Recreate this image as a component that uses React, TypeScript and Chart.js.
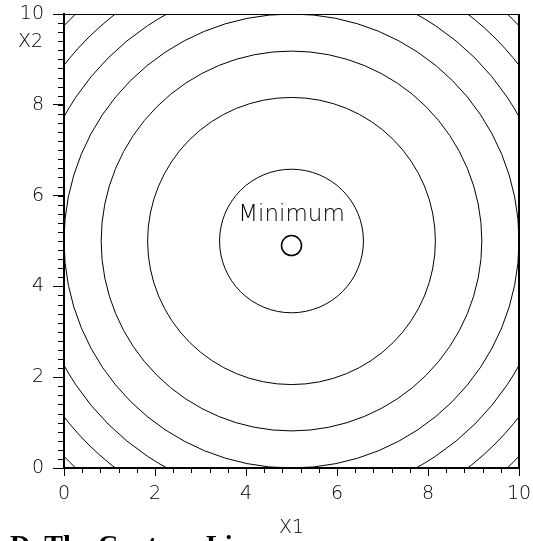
import React, { useEffect, useRef } from 'react';
import { Chart, registerables } from 'chart.js';

Chart.register(...registerables);

// ---- data ----
const X_RANGE = [0, 10];
const Y_RANGE = [0, 10];
const MAJOR_STEP = 2;
const X_MINOR_STEP = 0.4;
const Y_MINOR_STEP = 0.2;
const CENTER = [5, 5];
// contour levels of f(x1,x2) = (x1-5)^2 + (x2-5)^2
const CONTOUR_LEVELS = [2.5, 10, 17.5, 25, 32.5, 40, 47.5];
const MIN_X = [5];
const MIN_Y = [4.9];
const MIN_LABEL = 'Minimum';
const MIN_LABEL_POS = [5, 5.58];
const X_TITLE = 'X1';
const Y_TITLE = 'X2';
const CAPTION = 'D. The Contour Lines';

const THIN_FONT = '"DejaVu Sans", sans-serif';

const zeroPad = (s: any) => {
  s.paddingLeft = 0;
  s.paddingRight = 0;
  s.paddingTop = 0;
  s.paddingBottom = 0;
};

const decorPlugin = {
  id: 'decor',
  beforeDatasetsDraw(chart: any) {
    const { ctx, chartArea, scales } = chart;
    const xs = scales.x;
    const ys = scales.y;
    const cx = xs.getPixelForValue(CENTER[0]);
    const cy = ys.getPixelForValue(CENTER[1]);
    const pxX = xs.getPixelForValue(1) - xs.getPixelForValue(0);
    const pxY = ys.getPixelForValue(0) - ys.getPixelForValue(1);
    ctx.save();
    ctx.beginPath();
    ctx.rect(chartArea.left, chartArea.top, chartArea.right - chartArea.left, chartArea.bottom - chartArea.top);
    ctx.clip();
    ctx.strokeStyle = '#000';
    ctx.lineWidth = 1;
    CONTOUR_LEVELS.forEach((lv) => {
      const r = Math.sqrt(lv);
      ctx.beginPath();
      ctx.ellipse(cx, cy, r * pxX, r * pxY, 0, 0, Math.PI * 2);
      ctx.stroke();
    });
    ctx.restore();
  },
  afterDraw(chart: any) {
    const { ctx, chartArea, scales } = chart;
    const xs = scales.x;
    const ys = scales.y;
    ctx.save();
    ctx.strokeStyle = '#000';
    // minor ticks
    ctx.lineWidth = 1;
    for (let i = 0; i <= Math.round((Y_RANGE[1] - Y_RANGE[0]) / Y_MINOR_STEP); i++) {
      const v = Y_RANGE[0] + i * Y_MINOR_STEP;
      const y = Math.round(ys.getPixelForValue(v)) + 0.5;
      ctx.beginPath();
      ctx.moveTo(chartArea.left - 6, y);
      ctx.lineTo(chartArea.left, y);
      ctx.stroke();
    }
    for (let i = 0; i <= Math.round((X_RANGE[1] - X_RANGE[0]) / X_MINOR_STEP); i++) {
      const v = X_RANGE[0] + i * X_MINOR_STEP;
      const x = Math.round(xs.getPixelForValue(v)) + 0.5;
      ctx.beginPath();
      ctx.moveTo(x, chartArea.bottom);
      ctx.lineTo(x, chartArea.bottom + 5);
      ctx.stroke();
    }
    // top and right borders
    ctx.lineWidth = 1;
    ctx.beginPath();
    ctx.moveTo(chartArea.left, chartArea.top + 0.5);
    ctx.lineTo(chartArea.right, chartArea.top + 0.5);
    ctx.stroke();
    ctx.lineWidth = 2;
    ctx.beginPath();
    ctx.moveTo(chartArea.right, chartArea.top);
    ctx.lineTo(chartArea.right, chartArea.bottom);
    ctx.stroke();

    // Minimum label
    ctx.fillStyle = '#000';
    ctx.font = `200 23px ${THIN_FONT}`;
    ctx.textAlign = 'center';
    ctx.textBaseline = 'middle';
    ctx.fillText(MIN_LABEL, xs.getPixelForValue(MIN_LABEL_POS[0]), ys.getPixelForValue(MIN_LABEL_POS[1]));

    // axis titles
    ctx.font = `200 19px ${THIN_FONT}`;
    ctx.textAlign = 'center';
    ctx.fillText(X_TITLE, (chartArea.left + chartArea.right) / 2, chartArea.bottom + 60);
    ctx.textAlign = 'right';
    ctx.fillText(Y_TITLE, chartArea.left - 21, chartArea.top + 28);

    // caption (cut off at the bottom)
    ctx.textAlign = 'left';
    ctx.textBaseline = 'alphabetic';
    ctx.font = 'bold 28px "Liberation Serif", "Times New Roman", serif';
    ctx.fillText(CAPTION, 10, chart.height + 13);
    ctx.restore();
  },
};

export default function App() {
  const ref = useRef<HTMLCanvasElement | null>(null);
  useEffect(() => {
    if (!ref.current) return;
    const tickFont = { family: THIN_FONT, size: 19, weight: 200 as any };
    const chart = new Chart(ref.current, {
      type: 'scatter',
      data: {
        datasets: [
          {
            label: MIN_LABEL,
            data: MIN_X.map((x, i) => ({ x, y: MIN_Y[i] })),
            pointRadius: 10,
            pointBackgroundColor: 'rgba(0,0,0,0)',
            pointBorderColor: '#000',
            pointBorderWidth: 1.5,
            showLine: false,
          },
        ],
      },
      options: {
        animation: false,
        responsive: false,
        events: [],
        layout: { padding: { top: 14, right: 14, left: 0, bottom: 0 } },
        plugins: { legend: { display: false }, tooltip: { enabled: false } },
        scales: {
          x: {
            type: 'linear',
            position: 'bottom',
            min: X_RANGE[0],
            max: X_RANGE[1],
            afterFit: (s: any) => { s.height = 73; zeroPad(s); },
            ticks: { stepSize: MAJOR_STEP, font: tickFont, color: '#000', padding: 7, maxRotation: 0 },
            grid: { display: true, drawOnChartArea: false, drawTicks: true, tickLength: 8, color: '#000', lineWidth: 1 },
            border: { display: true, color: '#000', width: 2 },
          },
          y: {
            type: 'linear',
            position: 'left',
            min: Y_RANGE[0],
            max: Y_RANGE[1],
            afterFit: (s: any) => { s.width = 64; zeroPad(s); },
            ticks: { stepSize: MAJOR_STEP, font: tickFont, color: '#000', padding: 9 },
            grid: { display: true, drawOnChartArea: false, drawTicks: true, tickLength: 11, color: '#000', lineWidth: 1 },
            border: { display: true, color: '#000', width: 2 },
          },
        },
      },
      plugins: [decorPlugin],
    });
    return () => chart.destroy();
  }, []);
  return (
    <div style={{ position: 'absolute', left: 0, top: 0, width: 533, height: 541, background: '#fff' }}>
      <canvas ref={ref} width={533} height={541} style={{ display: 'block', width: 533, height: 541 }} />
    </div>
  );
}
